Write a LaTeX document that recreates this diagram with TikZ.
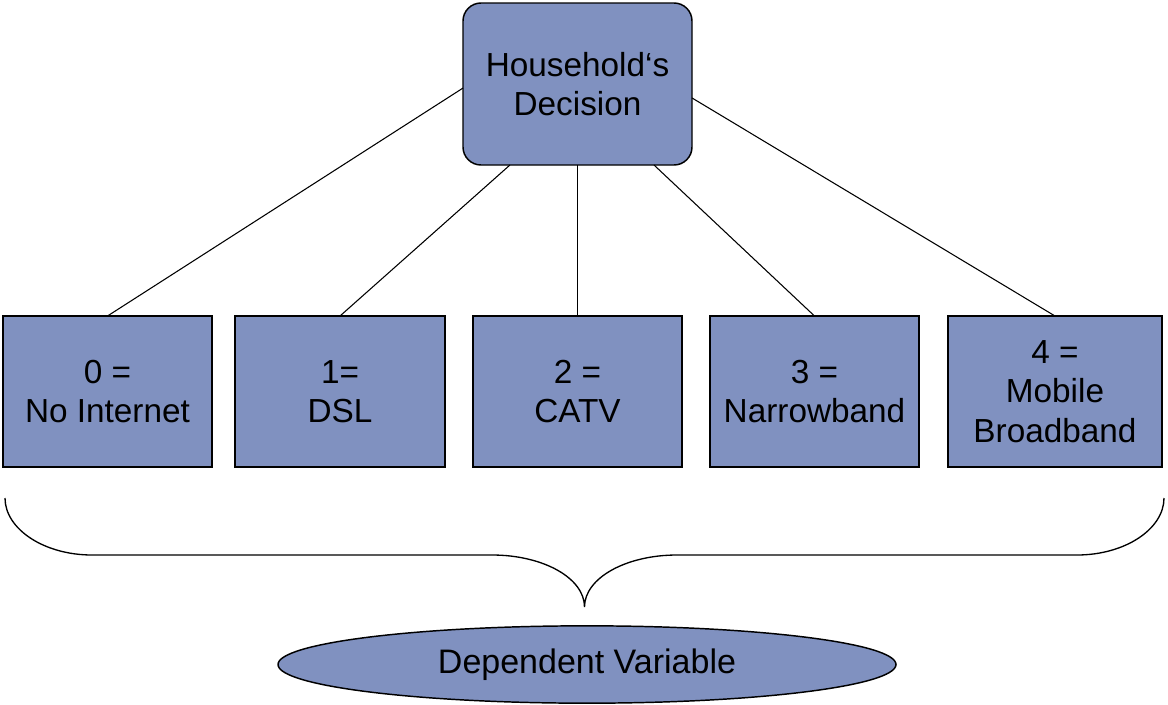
\documentclass[tikz,border=0pt]{standalone}
\usepackage{fontspec}
\setmainfont{Liberation Sans}
\usetikzlibrary{shapes.geometric,calc}
\definecolor{boxfill}{RGB}{128,145,192}

\begin{document}
\begin{tikzpicture}[x=0.75pt,y=-0.75pt,
  label text/.style={font=\fontsize{25}{29.5}\selectfont, align=center},
  choicebox/.style={label text, draw=black, line width=1.1pt, fill=boxfill,
    inner sep=0pt, outer sep=0pt, minimum height=113.25pt},
  decisionbox/.style={choicebox, rounded corners=13.5pt,
    minimum width=171.75pt, minimum height=121.5pt},
  resultshape/.style={label text, font=\fontsize{25.5}{30}\selectfont, ellipse,
    draw=black, line width=1.1pt, fill=boxfill, inner sep=0pt,
    minimum width=463.5pt, minimum height=58pt},
  link/.style={draw=black, line width=0.8pt}]

\useasboundingbox (0,0) rectangle (1168,704);

% top-level decision
\node[decisionbox] (top) at (577.5,84) {Household‘s\\Decision};

% the five alternatives
\node[choicebox, minimum width=156.75pt] (c0) at (107.5,391.5) {0 =\\No Internet};
\node[choicebox, minimum width=157.5pt]  (c1) at (340,391.5)   {1=\\DSL};
\node[choicebox, minimum width=156.75pt] (c2) at (577.5,391.5) {2 =\\CATV};
\node[choicebox, minimum width=156.75pt] (c3) at (814.5,391.5) {3 =\\Narrowband};
\node[choicebox, minimum width=160.5pt]  (c4) at (1055,391.5)  {4 =\\Mobile\\Broadband};

% connectors from the decision to each alternative
\draw[link] ($(top.north west)!0.525!(top.south west)$) -- (c0.north);
\draw[link] ($(top.south west)!0.205!(top.south east)$) -- (c1.north);
\draw[link] (top.south) -- (c2.north);
\draw[link] ($(top.south west)!0.834!(top.south east)$) -- (c3.north);
\draw[link] ($(top.north east)!0.586!(top.south east)$) -- (c4.north);

% curly brace gathering the alternatives
\coordinate (bl) at (5,498);
\coordinate (br) at (1164,498);
\coordinate (tip) at (584.5,607);
\draw[line width=1pt]
  (bl) .. controls (5,529) and (44,555) .. (92,555)
  -- (492,555) .. controls (543,555) and (584.5,578) .. (tip)
  .. controls (584.5,578) and (626,555) .. (677,555)
  -- (1077,555) .. controls (1125,555) and (1164,529) .. (br);

% outcome
\node[resultshape] (dv) at (587,664.5) {Dependent Variable};

\end{tikzpicture}
\end{document}
